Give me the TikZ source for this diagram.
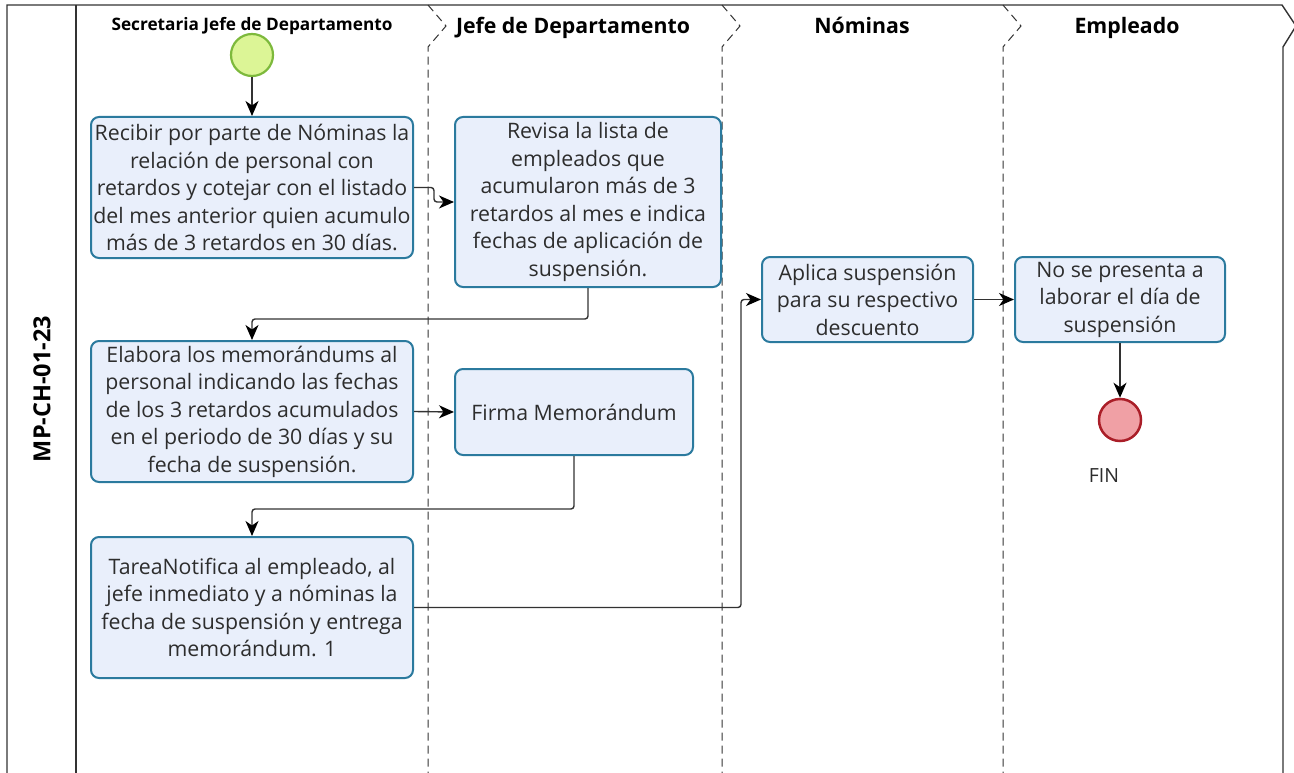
\documentclass[tikz,border=0pt]{standalone}
\usepackage{fontspec}
\setmainfont{Open Sans}
\usetikzlibrary{arrows.meta,calc}
\definecolor{taskfill}{RGB}{233,239,251}
\definecolor{taskdraw}{RGB}{43,122,158}
\definecolor{txt}{RGB}{45,45,45}
\definecolor{startfill}{RGB}{220,245,150}
\definecolor{startdraw}{RGB}{125,185,60}
\definecolor{endfill}{RGB}{240,160,165}
\definecolor{enddraw}{RGB}{170,30,40}
\definecolor{ln}{RGB}{50,50,50}
\tikzset{
  task/.style={draw=taskdraw, fill=taskfill, line width=2pt, rounded corners=8pt,
    align=center, text=txt, font=\fontsize{21.3}{27.5}\selectfont, inner sep=0pt},
  flow/.style={draw=ln, line width=1.4pt, rounded corners=3pt,
    -{Stealth[length=15pt,width=13pt,inset=4.5pt,color=black]}},
  lanehead/.style={font=\bfseries\fontsize{21.3}{24}\selectfont, text=black, anchor=base},
  divider/.style={draw=ln, line width=1pt, dash pattern=on 8pt off 5pt},
  border/.style={draw=ln, line width=1.4pt},
}
\begin{document}
\begin{tikzpicture}[x=1pt,y=-1pt]
\useasboundingbox (0,0) rectangle (1294,773);
% pool frame
\draw[border] (7,773) -- (7,5) -- (1282,5) -- (1296,26) -- (1283,47) -- (1283,773);
\draw[border] (76,5) -- (76,773);
\node[rotate=90, font=\bfseries\fontsize{23.5}{26}\selectfont, text=black] (pool) at (42,389) {MP-CH-01-23};
% lane dividers
\foreach \xx in {428,722,1003}{
  \draw[divider] (\xx,5) -- (\xx+18,26) -- (\xx,47) -- (\xx,773);
}
% lane headers
\node[font=\bfseries\fontsize{17.2}{20}\selectfont, text=black, anchor=base] (h1) at (252,31) {Secretaria Jefe de Departamento};
\node[lanehead] (h2) at (573,34) {Jefe de Departamento};
\node[lanehead] (h3) at (862,34) {Nóminas};
\node[lanehead] (h4) at (1127,34) {Empleado};
% events
\node[circle, draw=startdraw, fill=startfill, line width=2.2pt, minimum size=42pt, inner sep=0pt] (start) at (252,55) {};
\node[circle, draw=enddraw, fill=endfill, line width=2.5pt, minimum size=42pt, inner sep=0pt] (end) at (1120,420) {};
\node[font=\fontsize{19.5}{22}\selectfont, text=txt] (fin) at (1104,476) {FIN};
% tasks
\node[task, minimum width=322pt, minimum height=141pt] (b1) at (252,187.5)
 {Recibir por parte de Nóminas la\\relación de personal con\\retardos y cotejar con el listado\\del mes anterior quien acumulo\\más de 3 retardos en 30 días.};
\node[task, minimum width=266pt, minimum height=170pt] (b2) at (588,202)
 {Revisa la lista de\\empleados que\\acumularon más de 3\\retardos al mes e indica\\fechas de aplicación de\\suspensión.};
\node[task, minimum width=322pt, minimum height=141pt] (b3) at (252,411.5)
 {Elabora los memorándums al\\personal indicando las fechas\\de los 3 retardos acumulados\\en el periodo de 30 días y su\\fecha de suspensión.};
\node[task, minimum width=238pt, minimum height=86pt] (b4) at (574,412)
 {Firma Memorándum};
\node[task, minimum width=322pt, minimum height=141pt] (b5) at (252,607.5)
 {TareaNotifica al empleado, al\\jefe inmediato y a nóminas la\\fecha de suspensión y entrega\\memorándum. 1};
\node[task, minimum width=211pt, minimum height=85pt] (b6) at (867.5,299.5)
 {Aplica suspensión\\para su respectivo\\descuento};
\node[task, minimum width=210pt, minimum height=85pt] (b7) at (1120,299.5)
 {No se presenta a\\laborar el día de\\suspensión};
% connectors
\draw[flow] (start) -- (b1);
\draw[flow] (b1.east) -- ++(20,0) |- (b2.west);
\draw[flow] (b2.south) -- ++(0,31) -| (b3.north);
\draw[flow] (b3.east) -- (b4.west);
\draw[flow] (b4.south) -- ++(0,53) -| (b5.north);
\draw[flow] (b5.east) -- ++(327,0) |- (b6.west);
\draw[flow] (b6.east) -- (b7.west);
\draw[flow] (b7.south) -- (end.north);
\end{tikzpicture}
\end{document}
